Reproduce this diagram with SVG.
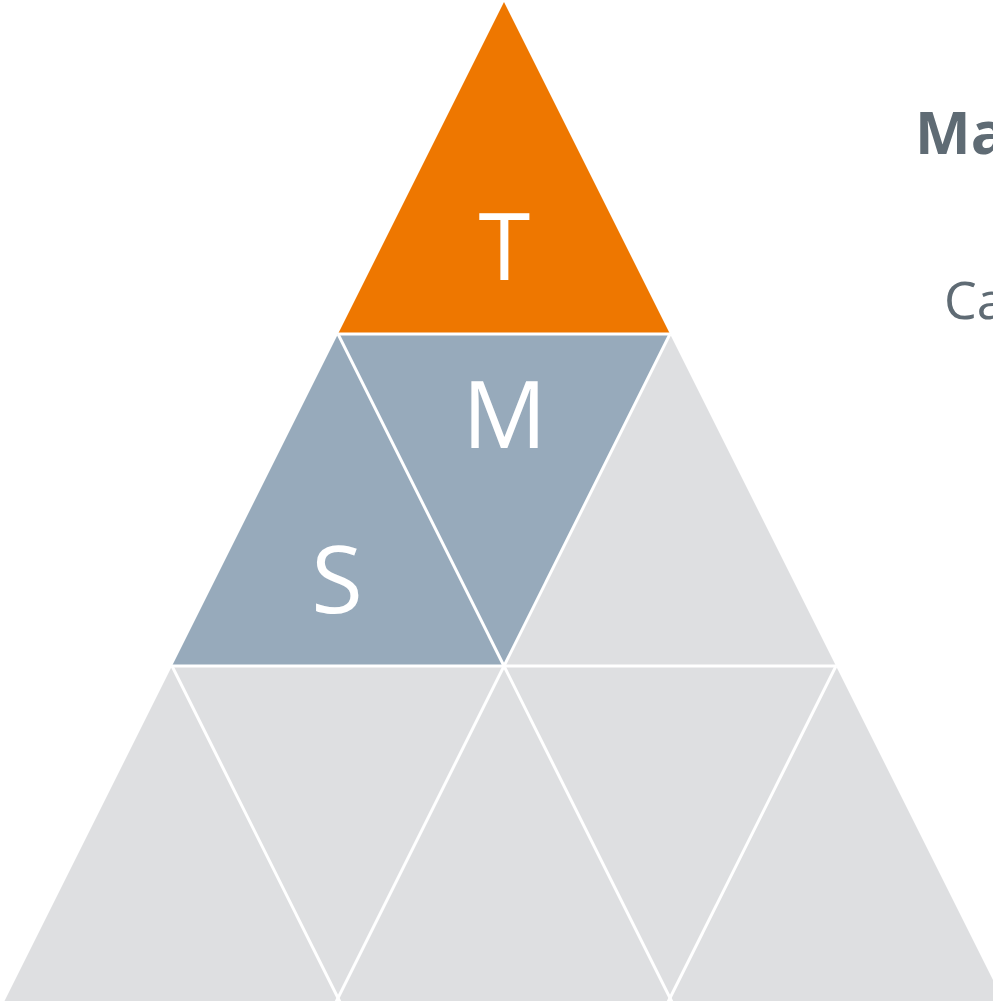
<svg xmlns="http://www.w3.org/2000/svg" width="993" height="1001" viewBox="0 0 993 1001">
<style>
.o{fill:#EE7700}
.b{fill:#97AABB}
.g{fill:#DEDFE1}
.sep{stroke:#ffffff;stroke-width:3;fill:none}
.lbl{font-family:"Open Sans","Liberation Sans",sans-serif;fill:#ffffff;font-size:94px;text-anchor:middle}
.side{font-family:"Open Sans","Liberation Sans",sans-serif;fill:#5F6B74}
</style>
<rect width="993" height="1001" fill="#ffffff"/>
<g id="t1"><polygon class="o" points="504,2 670,334 338,334"/></g>
<g id="t2"><polygon class="b" points="338,334 504,666 172,666"/></g>
<g id="t3"><polygon class="b" points="338,334 670,334 504,666"/></g>
<g id="t4"><polygon class="g" points="670,334 836,666 504,666"/></g>
<g id="t5"><polygon class="g" points="172,666 344,1010 0,1010"/></g>
<g id="t6"><polygon class="g" points="172,666 504,666 338,998 332,1010 344,1010"/></g>
<g id="t7"><polygon class="g" points="504,666 676,1010 332,1010"/></g>
<g id="t8"><polygon class="g" points="504,666 836,666 670,998 664,1010 676,1010"/></g>
<g id="t9"><polygon class="g" points="836,666 1008,1010 664,1010"/></g>
<g id="connectors">
<line class="sep" x1="338" y1="334" x2="670" y2="334"/>
<line class="sep" x1="172" y1="666" x2="836" y2="666"/>
<line class="sep" x1="338" y1="334" x2="504" y2="666"/>
<line class="sep" x1="670" y1="334" x2="504" y2="666"/>
<line class="sep" x1="172" y1="666" x2="344" y2="1010"/>
<line class="sep" x1="504" y1="666" x2="332" y2="1010"/>
<line class="sep" x1="504" y1="666" x2="676" y2="1010"/>
<line class="sep" x1="836" y1="666" x2="664" y2="1010"/>
</g>
<g id="labels">
<text class="lbl" x="504.5" y="280">T</text>
<text class="lbl" x="504.5" y="448">M</text>
<text class="lbl" x="337" y="613">S</text>
</g>
<g id="heading"><text class="side" x="915" y="154" font-size="59" font-weight="bold">Ma</text></g>
<g id="caption"><text class="side" x="944" y="319" font-size="52">Ca</text></g>
</svg>
